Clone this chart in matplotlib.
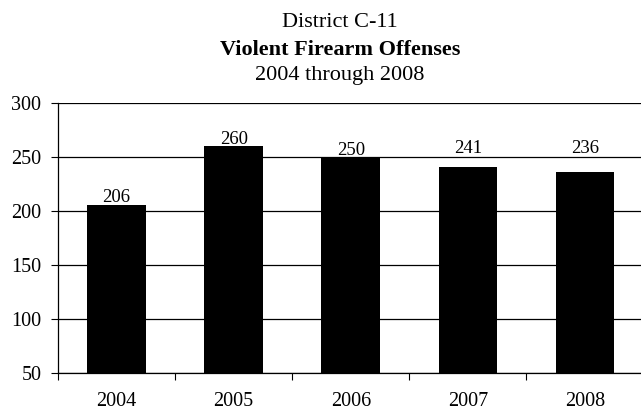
import matplotlib
matplotlib.use("Agg")
import matplotlib.pyplot as plt

# data
years = ["2004", "2005", "2006", "2007", "2008"]
offenses = [206, 260, 250, 241, 236]
yticks = [50, 100, 150, 200, 250, 300]

# the last two value labels sit above the 250 gridline in the original
label_lift = [1.5, 1.5, 1.5, 10, 14]

plt.rcParams['font.family'] = ['Liberation Serif', 'DejaVu Serif']

fig = plt.figure(figsize=(6.41, 4.17), dpi=100)
ax = fig.add_axes([0.0905, 0.1055, 0.9134, 0.6475])

x = range(len(years))
ax.bar(x, offenses, width=0.5, color="black", zorder=3)
ax.set_ylim(50, 300)
ax.set_xlim(-0.5, len(years) - 0.5)

ax.set_yticks(yticks)
ax.set_yticklabels([str(t) for t in yticks], fontsize=14.5)
ax.yaxis.grid(True, color="black", linewidth=0.9, zorder=0)
ax.tick_params(axis="y", length=5, direction="out", width=0.8, pad=7)

# category labels centred, ticks between categories
ax.set_xticks(list(x))
ax.set_xticklabels(years, fontsize=14.5)
ax.tick_params(axis="x", length=0, pad=14)
ax.set_xticks([i + 0.5 for i in range(-1, len(years) - 1)], minor=True)
ax.tick_params(axis="x", which="minor", length=5, direction="out", width=0.8)

for s in ["top", "right"]:
    ax.spines[s].set_visible(False)
ax.spines["left"].set_linewidth(0.9)
ax.spines["bottom"].set_linewidth(0.9)

for xi, v, lift in zip(x, offenses, label_lift):
    ax.annotate(str(v), (xi, v), xytext=(0, lift), textcoords="offset points",
                ha="center", va="baseline", fontsize=13.5)

fig.text(0.53, 0.935, "District C-11", ha="center", va="baseline", fontsize=16)
fig.text(0.53, 0.868, "Violent Firearm Offenses", ha="center", va="baseline",
         fontsize=16, fontweight="bold")
fig.text(0.53, 0.808, "2004 through 2008", ha="center", va="baseline", fontsize=16)

fig.savefig("out.png", dpi=100)
